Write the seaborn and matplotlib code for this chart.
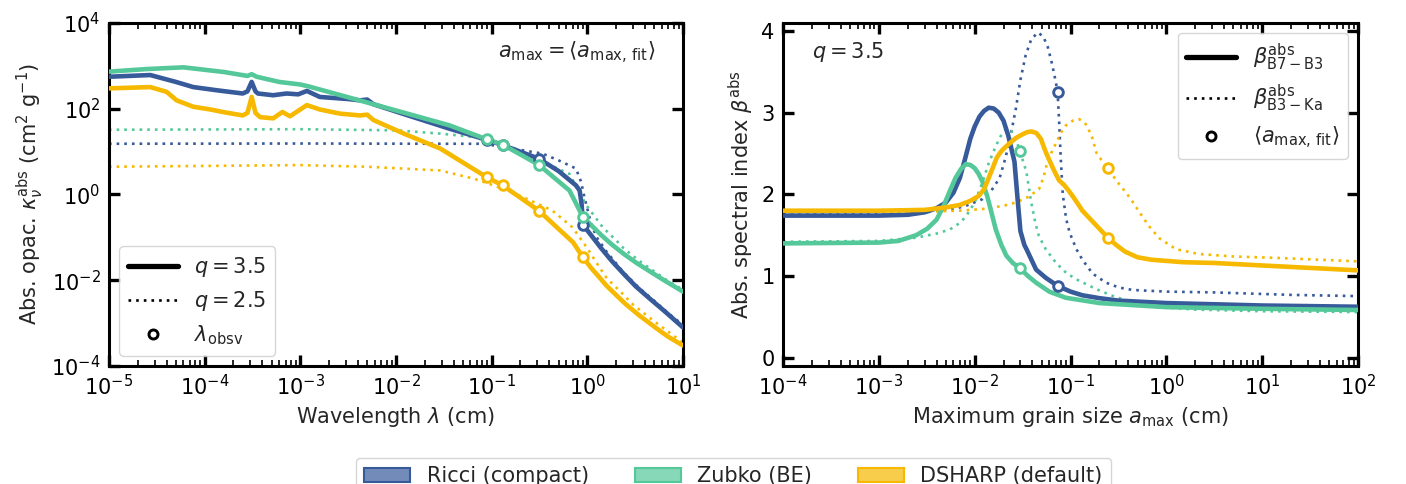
import numpy as np
import pandas as pd
import matplotlib
matplotlib.use("Agg")
import matplotlib.pyplot as plt
import seaborn as sns
from matplotlib.lines import Line2D
from matplotlib.patches import Patch
from matplotlib.colors import to_rgba
from matplotlib.ticker import NullLocator

# ---- data ----
materials = ["Ricci (compact)", "Zubko (BE)", "DSHARP (default)"]
colors = ["#375a9a", "#55c89a", "#f6b900"]

# left panel: absorption opacity vs wavelength (cm, cm^2/g)
ricci_q35_wl = [1e-5, 2.7e-5, 5e-5, 7.6e-5, 1.4e-4, 2.5e-4, 2.8e-4, 3.1e-4, 3.4e-4, 3.6e-4,
                5.2e-4, 7.2e-4, 9.5e-4, 1.17e-3, 1.6e-3, 3.2e-3, 4.2e-3, 5.0e-3, 5.8e-3, 0.0126,
                0.036, 0.089, 0.13, 0.31, 0.5, 0.76, 0.83, 0.87, 0.9, 1.1, 1.4, 1.8, 2.4, 3.2,
                4.5, 6.4, 10]
ricci_q35_k = [550, 603, 417, 316, 263, 224, 251, 417, 251, 224,
               204, 224, 214, 257, 186, 166, 155, 162, 126, 72,
               34, 18.6, 14.1, 6.8, 3.5, 1.62, 1.23, 0.60, 0.195, 0.11, 0.055, 0.028, 0.014, 0.0072,
               0.0037, 0.0019, 0.00079]

zubko_q35_wl = [1e-5, 2.5e-5, 6e-5, 1.6e-4, 2.8e-4, 3.1e-4, 3.5e-4, 6e-4, 1.0e-3, 1.2e-3,
                5.8e-3, 0.036, 0.089, 0.13, 0.31, 0.65, 0.9, 1.1, 1.4, 1.8, 2.4, 3.2, 4.5, 6.4, 10]
zubko_q35_k = [724, 832, 912, 708, 575, 631, 550, 417, 363, 331,
               126, 40.7, 19.1, 14.5, 4.9, 1.23, 0.295, 0.19, 0.112, 0.068, 0.041, 0.026, 0.016,
               0.0098, 0.0054]

dsharp_q35_wl = [1e-5, 2.7e-5, 4e-5, 5.1e-5, 7.6e-5, 1.15e-4, 1.55e-4, 2.5e-4, 2.8e-4, 3.1e-4,
                 3.4e-4, 3.8e-4, 5.2e-4, 6.5e-4, 7.8e-4, 1.17e-3, 1.6e-3, 2.6e-3, 4.2e-3, 5.0e-3,
                 5.8e-3, 0.0126, 0.029, 0.089, 0.13, 0.31, 0.71, 0.9, 1.1, 1.3, 1.58, 2.0, 2.5,
                 3.5, 5.3, 7, 10]
dsharp_q35_k = [295, 316, 245, 155, 110, 95, 83, 69, 79, 186,
                79, 63, 59, 83, 66, 120, 95, 76, 69, 72,
                54, 25, 11.7, 2.5, 1.62, 0.42, 0.076, 0.034, 0.019, 0.0125, 0.0075, 0.0045, 0.0028,
                0.0015, 0.00075, 0.00048, 0.0003]

ricci_q25_wl = [1e-5, 1e-3, 0.029, 0.083, 0.34, 0.5, 0.76, 0.86, 0.93, 1.01, 1.1, 1.25, 1.6,
                2.4, 3.5, 5, 7, 10]
ricci_q25_k = [15.1, 15.3, 15.1, 15.1, 8.9, 6.2, 4.0, 1.95, 0.87, 0.42, 0.2, 0.1, 0.045,
               0.015, 0.0065, 0.0033, 0.0017, 0.0009]

zubko_q25_wl = [1e-5, 1e-3, 0.01, 0.029, 0.089, 0.13, 0.31, 0.65, 0.98, 1.2, 1.45, 2.0, 2.4,
                3.5, 5, 7, 10]
zubko_q25_k = [32, 33, 31, 26, 20.4, 15.5, 6.3, 3.0, 0.55, 0.3, 0.17, 0.085, 0.055,
               0.028, 0.016, 0.0095, 0.006]

dsharp_q25_wl = [1e-5, 1e-3, 5e-3, 0.029, 0.066, 0.15, 0.43, 0.7, 0.98, 1.3, 1.6, 2.2, 3, 5, 10]
dsharp_q25_k = [4.4, 4.8, 4.4, 3.6, 2.3, 1.23, 0.42, 0.17, 0.059, 0.022, 0.011, 0.0055, 0.0027,
                0.0011, 0.00035]

obs_wl = [0.089, 0.13, 0.31, 0.9]
obs_k = [[18.6, 14.1, 6.8, 0.195], [19.1, 14.5, 4.9, 0.295], [2.5, 1.62, 0.42, 0.034]]

# right panel: spectral index vs maximum grain size (cm)
ricci_b73_a = [1e-4, 1e-3, 2e-3, 3e-3, 4e-3, 5e-3, 6e-3, 7e-3, 8e-3, 9e-3, 0.010, 0.0112,
               0.0125, 0.014, 0.0158, 0.0178, 0.020, 0.0224, 0.026, 0.028, 0.030, 0.033, 0.0347,
               0.0437, 0.055, 0.0733, 0.1, 0.133, 0.2, 0.316, 1, 10, 100]
ricci_b73 = [1.74, 1.74, 1.75, 1.78, 1.83, 1.90, 2.02, 2.20, 2.45, 2.68, 2.83, 2.95,
             3.02, 3.06, 3.05, 3.0, 2.90, 2.72, 2.40, 1.95, 1.55, 1.38, 1.33,
             1.08, 0.98, 0.88, 0.81, 0.765, 0.73, 0.70, 0.67, 0.64, 0.625]

ricci_b3k_a = [1e-4, 3e-3, 6e-3, 8.1e-3, 0.012, 0.015, 0.0182, 0.021, 0.024, 0.0269, 0.03,
               0.034, 0.039, 0.0457, 0.052, 0.058, 0.064, 0.0695, 0.0733, 0.076, 0.079, 0.083,
               0.09, 0.098, 0.115, 0.133, 0.17, 0.234, 0.32, 0.447, 1, 3.2, 20, 100]
ricci_b3k = [1.77, 1.78, 1.82, 1.86, 1.94, 2.05, 2.2, 2.45, 2.75, 3.05, 3.4,
             3.7, 3.9, 3.98, 3.93, 3.8, 3.6, 3.4, 3.25, 2.9, 2.45, 2.0,
             1.7, 1.53, 1.33, 1.20, 1.03, 0.92, 0.86, 0.83, 0.81, 0.80, 0.77, 0.755]

zubko_b73_a = [1e-4, 1e-3, 1.6e-3, 2.45e-3, 3.2e-3, 4e-3, 4.7e-3, 5.5e-3, 6.3e-3, 7.2e-3,
               8.1e-3, 9e-3, 0.01, 0.011, 0.012, 0.0135, 0.0148, 0.0166, 0.019, 0.0214, 0.025,
               0.0295, 0.036, 0.0437, 0.06, 0.089, 0.2, 1, 10, 100]
zubko_b73 = [1.40, 1.41, 1.43, 1.50, 1.58, 1.69, 1.85, 2.04, 2.20, 2.31,
             2.37, 2.36, 2.32, 2.25, 2.16, 1.98, 1.80, 1.57, 1.38, 1.25, 1.16,
             1.10, 1.0, 0.92, 0.81, 0.735, 0.67, 0.62, 0.60, 0.585]

zubko_b3k_a = [1e-4, 1e-3, 2.45e-3, 4e-3, 5.5e-3, 7e-3, 8.1e-3, 0.01, 0.012, 0.014, 0.0166,
               0.019, 0.0214, 0.024, 0.027, 0.0295, 0.0325, 0.0347, 0.0389, 0.043, 0.0468, 0.055,
               0.0708, 0.09, 0.115, 0.186, 0.3, 0.66, 2, 10, 100]
zubko_b3k = [1.42, 1.43, 1.47, 1.52, 1.57, 1.65, 1.73, 1.9, 2.14, 2.38, 2.59,
             2.73, 2.80, 2.78, 2.68, 2.53, 2.38, 2.27, 1.9, 1.65, 1.49, 1.33,
             1.16, 1.04, 0.96, 0.84, 0.74, 0.63, 0.59, 0.57, 0.56]

dsharp_b73_a = [1e-4, 1e-3, 3e-3, 5e-3, 7e-3, 9e-3, 0.011, 0.0125, 0.014, 0.0155, 0.017, 0.019,
                0.021, 0.024, 0.027, 0.031, 0.035, 0.039, 0.044, 0.049, 0.055, 0.06, 0.068,
                0.076, 0.085, 0.095, 0.105, 0.12, 0.133, 0.16, 0.2, 0.245, 0.3, 0.37, 0.5, 0.7,
                1.5, 3.2, 10, 100]
dsharp_b73 = [1.80, 1.80, 1.81, 1.84, 1.87, 1.92, 1.98, 2.06, 2.2, 2.33, 2.45, 2.53,
              2.58, 2.64, 2.69, 2.73, 2.76, 2.77, 2.75, 2.68, 2.52, 2.42, 2.28,
              2.17, 2.12, 2.05, 1.98, 1.88, 1.80, 1.70, 1.58, 1.47, 1.38, 1.30, 1.23, 1.20,
              1.17, 1.16, 1.13, 1.07]

dsharp_b3k_a = [1e-4, 3.2e-3, 6.9e-3, 0.012, 0.02, 0.0269, 0.035, 0.0468, 0.052, 0.058,
                0.0708, 0.08, 0.089, 0.105, 0.123, 0.14, 0.151, 0.17, 0.186, 0.21, 0.245, 0.3,
                0.38, 0.45, 0.525, 0.66, 0.85, 1.26, 2.19, 5, 16.2, 100]
dsharp_b3k = [1.78, 1.79, 1.80, 1.82, 1.86, 1.90, 1.96, 2.06, 2.2, 2.42,
              2.63, 2.76, 2.84, 2.9, 2.92, 2.88, 2.82, 2.68, 2.51, 2.42, 2.32, 2.17,
              2.02, 1.9, 1.78, 1.61, 1.46, 1.33, 1.27, 1.24, 1.22, 1.18]

amax_fit = [0.0733, 0.0295, 0.245]
beta_fit_b73 = [0.88, 1.10, 1.47]
beta_fit_b3k = [3.25, 2.53, 2.32]

# ---- style ----
sns.set_style("ticks")
plt.rcParams['font.family'] = ['DejaVu Sans']
plt.rcParams['font.size'] = 15
plt.rcParams['mathtext.fontset'] = 'dejavusans'

fig = plt.figure(figsize=(14.06, 4.84), dpi=100)
ax1 = fig.add_axes([0.0775, 0.2438, 0.4083, 0.7093])
ax2 = fig.add_axes([0.5569, 0.2438, 0.4090, 0.7093])

LW_S, LW_D = 3.3, 1.9
DOT = (0, (1, 1.9))
mk = dict(marker='o', s=48, facecolors='white', linewidths=2.1, zorder=6)


def draw(ax, x, y, c, solid, z):
    sns.lineplot(x=x, y=y, ax=ax, color=c, lw=LW_S if solid else LW_D,
                 linestyle='-' if solid else DOT, estimator=None, sort=False, zorder=z)


# left panel
solid_left = [(ricci_q35_wl, ricci_q35_k), (zubko_q35_wl, zubko_q35_k), (dsharp_q35_wl, dsharp_q35_k)]
dotted_left = [(ricci_q25_wl, ricci_q25_k), (zubko_q25_wl, zubko_q25_k), (dsharp_q25_wl, dsharp_q25_k)]
for i, c in enumerate(colors):
    draw(ax1, *dotted_left[i], c, False, 2)
for i, c in enumerate(colors):
    draw(ax1, *solid_left[i], c, True, 3 + i * 0.1)
    ax1.scatter(obs_wl, obs_k[i], edgecolors=c, **mk)

ax1.set_xscale('log')
ax1.set_yscale('log')
ax1.set_xlim(1e-5, 10)
ax1.set_ylim(1e-4, 1e4)
ax1.set_yticks([1e-4, 1e-2, 1, 1e2, 1e4])
ax1.yaxis.set_minor_locator(NullLocator())
ax1.set_xlabel(r'Wavelength $\lambda$ (cm)')
ax1.set_ylabel(r'Abs. opac. $\kappa_\nu^{\rm abs}$ (cm$^2$ g$^{-1}$)')
ax1.text(0.952, 0.912, r'$a_{\rm max} = \langle a_{\rm max,\,fit}\rangle$', transform=ax1.transAxes,
         ha='right', va='center', fontsize=15)


def key_handles():
    return [Line2D([], [], color='k', lw=LW_S + 0.5),
            Line2D([], [], color='k', lw=LW_D, linestyle=DOT),
            Line2D([], [], color='k', lw=0, marker='o', markerfacecolor='white', markersize=6.5,
                   markeredgewidth=2.1)]


ax1.legend(key_handles(), [r'$q = 3.5$', r'$q = 2.5$', r'$\lambda_{\rm obsv}$'], loc='lower left',
           fontsize=15, handlelength=2.4)

# right panel
solid_right = [(ricci_b73_a, ricci_b73), (zubko_b73_a, zubko_b73), (dsharp_b73_a, dsharp_b73)]
dotted_right = [(ricci_b3k_a, ricci_b3k), (zubko_b3k_a, zubko_b3k), (dsharp_b3k_a, dsharp_b3k)]
for i, c in enumerate(colors):
    draw(ax2, *dotted_right[i], c, False, 2)
for i, c in enumerate(colors):
    draw(ax2, *solid_right[i], c, True, 3 + i * 0.1)
for i, c in enumerate(colors):
    ax2.scatter([amax_fit[i], amax_fit[i]], [beta_fit_b73[i], beta_fit_b3k[i]], edgecolors=c, **mk)

ax2.set_xscale('log')
ax2.set_xlim(1e-4, 100)
ax2.set_ylim(-0.1, 4.1)
ax2.set_yticks([0, 1, 2, 3, 4])
ax2.set_xlabel(r'Maximum grain size $a_{\rm max}$ (cm)')
ax2.set_ylabel(r'Abs. spectral index $\beta^{\rm abs}$')
ax2.text(0.05, 0.915, r'$q = 3.5$', transform=ax2.transAxes, ha='left', va='center', fontsize=15)
ax2.legend(key_handles(), [r'$\beta^{\rm abs}_{\rm B7-B3}$', r'$\beta^{\rm abs}_{\rm B3-Ka}$',
                           r'$\langle a_{\rm max,\,fit}\rangle$'],
           loc='upper right', fontsize=15, handlelength=2.4)

for ax in (ax1, ax2):
    for sp in ax.spines.values():
        sp.set_linewidth(2.2)
        sp.set_color('black')
    ax.tick_params(which='both', direction='in', top=True, right=True, colors='black')
    ax.tick_params(which='major', length=8, width=2.4, labelsize=15, pad=6)
    ax.tick_params(which='minor', length=4.5, width=1.2)

# shared material legend
mat_handles = [Patch(facecolor=to_rgba(c, 0.7), edgecolor=c, lw=1.5) for c in colors]
fig.legend(mat_handles, materials, loc='upper center', bbox_to_anchor=(0.5217, 0.075), ncol=3,
           fontsize=15, handlelength=2.2, columnspacing=2.2, frameon=True)

fig.savefig('out.png', dpi=100)
